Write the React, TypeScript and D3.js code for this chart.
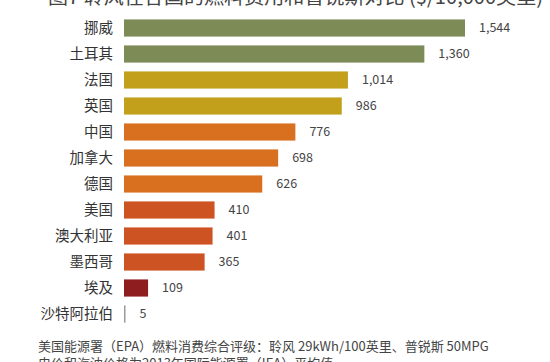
import React from 'react';
import * as d3 from 'd3';

const countries = ['挪威', '土耳其', '法国', '英国', '中国', '加拿大', '德国', '美国', '澳大利亚', '墨西哥', '埃及', '沙特阿拉伯'];
const costs = [1544, 1360, 1014, 986, 776, 698, 626, 410, 401, 365, 109, 5];
const barColors = ['#7d8b57', '#7d8b57', '#c2a01b', '#c2a01b', '#d8701f', '#d8701f', '#d8701f', '#cd5323', '#cd5323', '#cd5323', '#8e1d20', '#9a9a9a'];
const titleText = '图7 聆风在各国的燃料费用和普锐斯对比 ($/10,000英里)';
const noteLines = [
  '美国能源署（EPA）燃料消费综合评级：聆风 29kWh/100英里、普锐斯 50MPG',
  '电价和汽油价格为2013年国际能源署（IEA）平均值',
];

const W = 550;
const H = 362;
const cjk = '"Noto Sans CJK SC", "Noto Sans", sans-serif';

const App: React.FC = () => {
  const x = d3.scaleLinear().domain([0, 1544]).range([124, 465]);
  const y = d3.scaleBand<string>().domain(countries).range([15, 327]).paddingInner(0.34).paddingOuter(0.17);
  const fmt = d3.format(',');

  return (
    <svg width={W} height={H} style={{ position: 'absolute', left: 0, top: 0, background: '#fff' }}>
      {/* title sits mostly above the crop, only its lower part shows */}
      <text x={48} y={4} fontFamily={cjk} fontSize={19} fill="#444"
        textLength={495} lengthAdjust="spacingAndGlyphs">{titleText}</text>

      {countries.map((c, i) => {
        const yy = y(c) as number;
        const bw = Math.max(x(costs[i]) - x(0), 1.5);
        return (
          <g key={c}>
            <text x={113} y={yy + y.bandwidth() / 2} dy="0.35em" textAnchor="end"
              fontFamily={cjk} fontSize={14.5} fill="#333">{c}</text>
            <rect x={x(0)} y={yy} width={bw} height={y.bandwidth()} fill={barColors[i]} />
            <text x={x(0) + bw + 14} y={yy + y.bandwidth() / 2} dy="0.35em"
              fontFamily={cjk} fontSize={12.5} fill="#444">{fmt(costs[i])}</text>
          </g>
        );
      })}

      {noteLines.map((t, i) => (
        <text key={i} x={38} y={351 + i * 17} fontFamily={cjk} fontSize={13} fill="#444">{t}</text>
      ))}
    </svg>
  );
};

export default App;
